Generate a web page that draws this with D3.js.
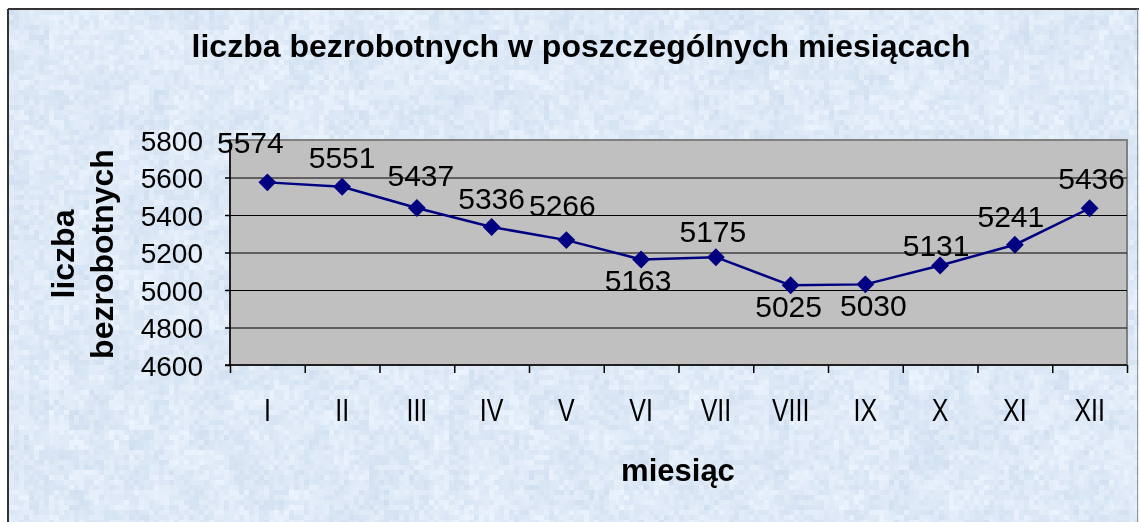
<!DOCTYPE html>
<html>
<head>
<meta charset="utf-8">
<script src="https://cdn.jsdelivr.net/npm/d3@7/dist/d3.min.js"></script>
<style>
	body { margin: 0; background: #fff; }
	#wrap { position: relative; width: 1139px; height: 522px; overflow: hidden; }
	#bg, #chart { position: absolute; left: 0; top: 0; }
	text { font-family: "Liberation Sans", Arial, sans-serif; fill: #000; }
</style>
</head>
<body>
<div id="wrap">
	<canvas id="bg" width="1139" height="522"></canvas>
	<svg id="chart" width="1139" height="522"></svg>
</div>
<script>
/* Data */

var months = ["I", "II", "III", "IV", "V", "VI", "VII", "VIII", "IX", "X", "XI", "XII"];
var unemployed = [5574, 5551, 5437, 5336, 5266, 5163, 5175, 5025, 5030, 5131, 5241, 5436];
var yTicks = [4600, 4800, 5000, 5200, 5400, 5600, 5800];

// label nudges [dx, dy] relative to the point (labels were dragged around by hand)
var labelNudge = [[-17, -40], [0, -29], [4, -33], [0, -29], [-4, -35], [-3, 21],
	[-3, -26], [-2, 21], [8, 21], [-4, -20], [-4, -29], [2, -30]];

var W = 1139, H = 522;
var plot = {left: 230, right: 1127, top: 140, bottom: 365};

/* Background texture (blue paper look) */

var ctx = document.getElementById("bg").getContext("2d");
ctx.fillStyle = "#fff";
ctx.fillRect(0, 0, W, H);
function hash(i, j) {
	var s = Math.sin(i * 127.1 + j * 311.7) * 43758.5453;
	return s - Math.floor(s);
}
var cell = 5;
for (var i = 0; i * cell < W; i++) {
	for (var j = 0; j * cell < H; j++) {
		var n = 0.6 * hash(i, j) + 0.4 * hash(Math.floor(i / 4), Math.floor(j / 4));
		var r = Math.round(208 + n * 28),
			g = Math.round(223 + n * 21),
			b = Math.round(240 + n * 13);
		ctx.fillStyle = "rgb(" + r + "," + g + "," + b + ")";
		ctx.fillRect(9 + i * cell, 10 + j * cell, cell, cell);
	}
}

var svg = d3.select("#chart");

/* Frame */

svg.append("line").attr("x1", 8).attr("x2", 1139).attr("y1", 9).attr("y2", 9)
	.attr("stroke", "#333").attr("stroke-width", 2);
svg.append("line").attr("x1", 8).attr("x2", 8).attr("y1", 9).attr("y2", H)
	.attr("stroke", "#333").attr("stroke-width", 2);
svg.append("line").attr("x1", 1137.5).attr("x2", 1137.5).attr("y1", 9).attr("y2", H)
	.attr("stroke", "#999").attr("stroke-width", 1);

/* Scales */

var x = d3.scaleBand()
	.domain(months)
	.range([plot.left, plot.right]);

var xEdge = d3.scaleLinear()
	.domain([0, months.length])
	.range([plot.left, plot.right]);

var y = d3.scaleLinear()
	.domain([4600, 5800])
	.range([plot.bottom, plot.top]);

/* Plot area */

svg.append("rect")
	.attr("x", plot.left)
	.attr("y", plot.top)
	.attr("width", plot.right - plot.left)
	.attr("height", plot.bottom - plot.top)
	.attr("fill", "#c0c0c0")
	.attr("stroke", "#808080")
	.attr("stroke-width", 2);

// gridlines
svg.append("g")
	.attr("class", "grid")
	.attr("transform", "translate(" + plot.left + ",0)")
	.call(d3.axisLeft(y).tickValues(yTicks.slice(1, -1)).tickSize(-(plot.right - plot.left)).tickFormat(""))
	.call(function(g) { g.select(".domain").remove(); })
	.selectAll("line").attr("stroke", "#000").attr("stroke-width", 1);

/* Axes */

var yAxis = svg.append("g")
	.attr("transform", "translate(" + plot.left + ",0)")
	.call(d3.axisLeft(y).tickValues(yTicks).tickSize(5).tickPadding(22).tickFormat(d3.format("d")));
yAxis.select(".domain").remove();
yAxis.selectAll("line").attr("stroke", "#000").attr("stroke-width", 1.5);
yAxis.selectAll("text")
	.attr("font-size", 28)
	.attr("dy", "0.36em")
	.style("font-family", "'Liberation Sans', Arial, sans-serif");

var xTicks = svg.append("g")
	.attr("transform", "translate(0," + plot.bottom + ")")
	.call(d3.axisBottom(xEdge).tickValues(d3.range(months.length + 1)).tickSize(8).tickFormat(""));
xTicks.select(".domain").remove();
xTicks.selectAll("line").attr("stroke", "#000").attr("stroke-width", 1.5);

var xAxis = svg.append("g")
	.attr("transform", "translate(0," + plot.bottom + ")")
	.call(d3.axisBottom(x).tickSize(0).tickPadding(33));
xAxis.select(".domain").remove();
xAxis.selectAll("text")
	.attr("font-size", 32)
	.attr("transform", "scale(0.78,1)")
	.style("font-family", "'Liberation Sans', Arial, sans-serif");

// axis lines
svg.append("line")
	.attr("x1", plot.left).attr("x2", plot.left)
	.attr("y1", plot.top).attr("y2", plot.bottom)
	.attr("stroke", "#000").attr("stroke-width", 1.5);
svg.append("line")
	.attr("x1", plot.left - 5).attr("x2", plot.right)
	.attr("y1", plot.bottom).attr("y2", plot.bottom)
	.attr("stroke", "#000").attr("stroke-width", 1.5);

/* Series */

var line = d3.line()
	.x(function(d, i) { return x(months[i]) + x.bandwidth() / 2; })
	.y(function(d) { return y(d); });

svg.append("path")
	.datum(unemployed)
	.attr("fill", "none")
	.attr("stroke", "#000080")
	.attr("stroke-width", 2.5)
	.attr("stroke-linejoin", "round")
	.attr("d", line);

svg.selectAll(".marker")
	.data(unemployed)
	.enter().append("path")
	.attr("class", "marker")
	.attr("d", d3.symbol().type(d3.symbolSquare).size(160))
	.attr("fill", "#000080")
	.attr("transform", function(d, i) {
		return "translate(" + (x(months[i]) + x.bandwidth() / 2) + "," + y(d) + ") rotate(45)";
	});

svg.selectAll(".value-label")
	.data(unemployed)
	.enter().append("text")
	.attr("class", "value-label")
	.attr("text-anchor", "middle")
	.attr("font-size", 30)
	.attr("dy", "0.36em")
	.attr("x", function(d, i) { return x(months[i]) + x.bandwidth() / 2 + labelNudge[i][0]; })
	.attr("y", function(d, i) { return y(d) + labelNudge[i][1]; })
	.text(function(d) { return d; });

/* Titles */

svg.append("text")
	.attr("x", 581)
	.attr("y", 57)
	.attr("text-anchor", "middle")
	.attr("font-size", 32)
	.attr("font-weight", "bold")
	.text("liczba bezrobotnych w poszczególnych miesiącach");

svg.append("text")
	.attr("x", 678)
	.attr("y", 481)
	.attr("text-anchor", "middle")
	.attr("font-size", 31)
	.attr("font-weight", "bold")
	.text("miesiąc");

var yTitle = svg.append("text")
	.attr("text-anchor", "middle")
	.attr("font-size", 32)
	.attr("font-weight", "bold")
	.attr("transform", "translate(74,254) rotate(-90)");
yTitle.append("tspan").attr("x", 0).attr("y", 0).text("liczba");
yTitle.append("tspan").attr("x", 0).attr("y", 39).text("bezrobotnych");
</script>
</body>
</html>
